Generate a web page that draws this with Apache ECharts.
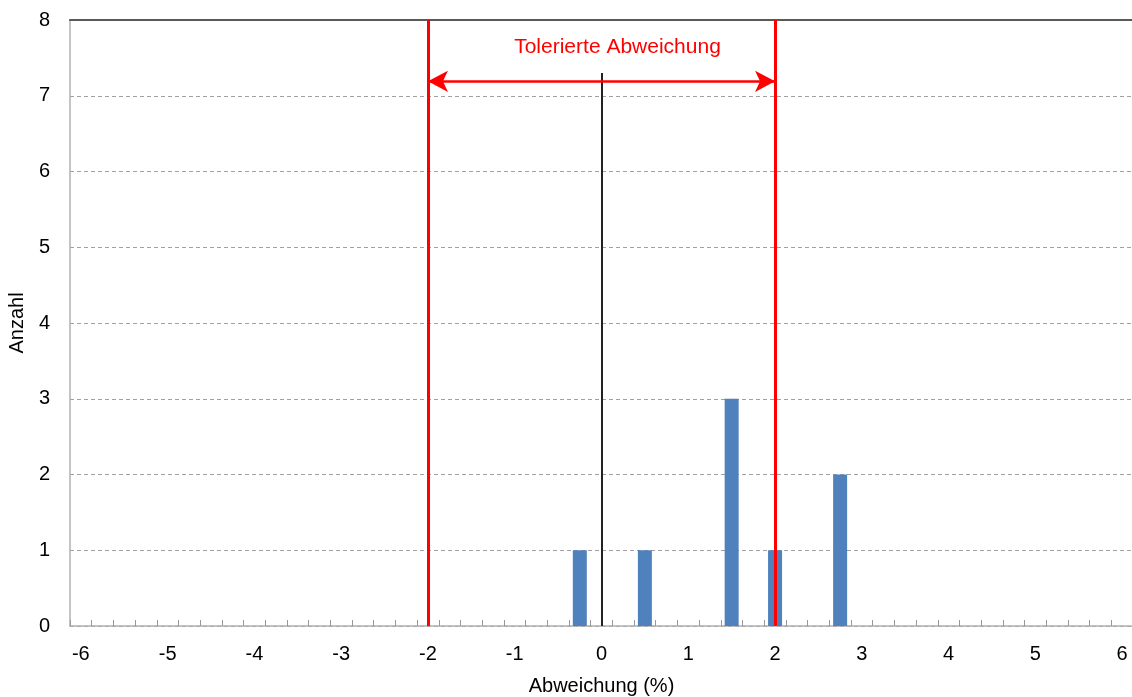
<!DOCTYPE html>
<html>
<head>
<meta charset="utf-8">
<script src="https://cdn.jsdelivr.net/npm/echarts@6/dist/echarts.min.js"></script>
<style>html,body{margin:0;padding:0;background:#fff;}#c{width:1132px;height:697px;}</style>
</head>
<body>
<div id="c"></div>
<script>
// Bins of 0.25 % from -6 to 6
const binStart = -6, binStep = 0.25, binCount = 49;
const categories = [];
for (let i = 0; i < binCount; i++) categories.push(String(binStart + i * binStep));
// Counts per bin (only non-zero bins listed)
const countBins = ['-0.25', '0.5', '1.5', '2', '2.75'];
const countValues = [1, 1, 3, 1, 2];
const toleranceLimits = ['-2', '2'];
const toleranceLabel = 'Tolerierte Abweichung';
const arrowLevel = 7.19;
const zeroLineTop = 7.3;
const xAxisName = 'Abweichung (%)';
const yAxisName = 'Anzahl';

const counts = categories.map(c => {
  const k = countBins.indexOf(c);
  return k >= 0 ? countValues[k] : 0;
});

const font = 'Liberation Sans, Arial, sans-serif';
const chart = echarts.init(document.getElementById('c'));
chart.setOption({
  animation: false,
  grid: { left: 70, top: 20, width: 1063, height: 606, containLabel: false, outerBoundsMode: 'none' },
  xAxis: [{
    type: 'category',
    data: categories,
    boundaryGap: true,
    name: xAxisName,
    nameLocation: 'middle',
    nameGap: 50,
    nameTextStyle: { fontFamily: font, fontSize: 20, color: '#000' },
    axisLine: { lineStyle: { color: '#b0b0b0', width: 1.5 } },
    axisTick: { show: true, interval: 0, inside: true, length: 6, lineStyle: { color: '#999' } },
    axisLabel: { interval: 3, margin: 18, fontFamily: font, fontSize: 20, color: '#000' },
    splitLine: { show: false }
  }, {
    type: 'category',
    data: categories,
    position: 'top',
    axisLine: { show: true, lineStyle: { color: '#595959', width: 2 } },
    axisTick: { show: false },
    axisLabel: { show: false }
  }],
  yAxis: {
    type: 'value',
    min: 0, max: 8, interval: 1,
    name: yAxisName,
    nameLocation: 'middle',
    nameGap: 39,
    nameTextStyle: { fontFamily: font, fontSize: 20, color: '#000' },
    axisLine: { show: true, lineStyle: { color: '#b0b0b0', width: 1.5 } },
    axisTick: { show: false },
    axisLabel: { margin: 20, fontFamily: font, fontSize: 20, color: '#000' },
    splitLine: { lineStyle: { color: '#a0a0a0', type: [4, 3], width: 1 } }
  },
  series: [{
    type: 'bar',
    data: counts,
    barWidth: 14,
    itemStyle: { color: '#4F81BD' },
    markLine: {
      silent: true,
      symbol: ['none', 'none'],
      data: [
        { xAxis: toleranceLimits[0], lineStyle: { color: '#FF0000', width: 3, type: 'solid' }, label: { show: false } },
        { xAxis: toleranceLimits[1], lineStyle: { color: '#FF0000', width: 3, type: 'solid' }, label: { show: false } },
        [
          { coord: ['0', 0], lineStyle: { color: '#222', width: 2, type: 'solid' }, label: { show: false } },
          { coord: ['0', zeroLineTop] }
        ],
        [
          { coord: [toleranceLimits[0], arrowLevel], symbol: 'arrow', symbolSize: [16, 20],
            lineStyle: { color: '#FF0000', width: 2.5, type: 'solid' },
            label: { show: true, position: 'middle', formatter: toleranceLabel, color: '#FF0000',
                     fontFamily: font, fontSize: 21, distance: 24, offset: [16, 0] } },
          { coord: [toleranceLimits[1], arrowLevel], symbol: 'arrow', symbolSize: [16, 20] }
        ]
      ]
    }
  }]
});
</script>
</body>
</html>
